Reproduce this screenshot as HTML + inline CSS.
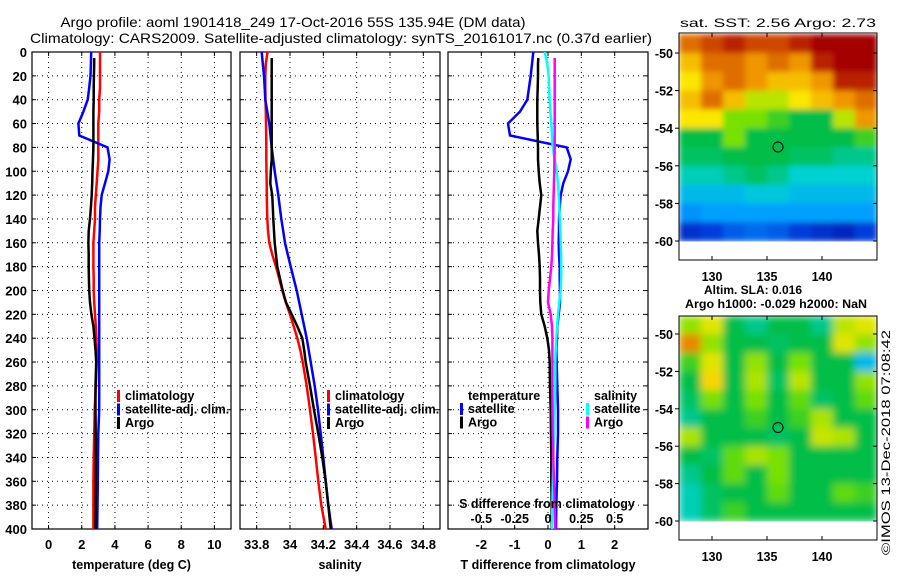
<!DOCTYPE html>
<html><head><meta charset="utf-8"><style>
html,body{margin:0;padding:0;background:#fff;}
svg{display:block;font-family:"Liberation Sans",sans-serif;}
</style></head><body>
<svg id="fig" width="900" height="580" viewBox="0 0 900 580">
<defs>
<filter id="blur" x="0" y="0" width="1" height="1"><feGaussianBlur stdDeviation="4" edgeMode="duplicate"/></filter>
<filter id="blur2" x="0" y="0" width="1" height="1"><feGaussianBlur stdDeviation="3" edgeMode="duplicate"/></filter>
</defs>
<text x="293" y="27" font-size="14" text-anchor="middle" textLength="465" lengthAdjust="spacingAndGlyphs">Argo profile: aoml 1901418_249 17-Oct-2016 55S 135.94E (DM data)</text>
<text x="341" y="43" font-size="14" text-anchor="middle" textLength="622" lengthAdjust="spacingAndGlyphs">Climatology: CARS2009. Satellite-adjusted climatology: synTS_20161017.nc (0.37d earlier)</text>
<text x="778" y="27" font-size="12" text-anchor="middle" textLength="196" lengthAdjust="spacingAndGlyphs">sat. SST: 2.56 Argo: 2.73</text>
<text x="753" y="294" font-size="12" text-anchor="middle" font-weight="bold">Altim. SLA: 0.016</text>
<text x="776" y="308" font-size="12" text-anchor="middle" font-weight="bold" textLength="182" lengthAdjust="spacingAndGlyphs">Argo h1000: -0.029 h2000: NaN</text>
<text transform="translate(890,555) rotate(-90)" font-size="12" textLength="225" lengthAdjust="spacingAndGlyphs">©IMOS 13-Dec-2018 07:08:42</text>
<g id="plots"></g>
</svg>
<script>
// ---- data ----
const depths = [0,10,20,30,40,50,60,70,80,90,100,110,120,130,140,150,160,170,180,190,200,210,220,230,240,250,260,280,300,320,340,360,380,400];
const argoDepths = [5,10,20,30,40,50,60,70,80,90,100,110,120,130,140,150,160,170,180,190,200,210,220,230,240,250,260,280,300,320,340,360,380,400];
const tempClim = [3.1,3.1,3.1,3.1,3.05,3.05,3.0,3.0,3.0,3.0,2.95,2.9,2.85,2.8,2.8,2.75,2.7,2.7,2.7,2.72,2.72,2.75,2.8,2.85,2.88,2.9,2.9,2.85,2.78,2.75,2.72,2.7,2.7,2.7];
const tempSat = [2.57,2.55,2.53,2.45,2.36,2.1,1.8,1.85,3.55,3.68,3.6,3.4,3.2,3.13,3.1,3.08,3.05,3.05,3.05,3.05,3.05,3.05,3.05,3.05,3.05,3.05,3.05,3.05,3.05,3.0,2.98,2.97,2.95,2.93];
const tempArgo = [2.75,2.75,2.73,2.72,2.72,2.7,2.7,2.7,2.7,2.68,2.65,2.63,2.6,2.55,2.5,2.42,2.4,2.42,2.42,2.43,2.45,2.5,2.58,2.7,2.77,2.83,2.87,2.83,2.83,2.84,2.85,2.85,2.84,2.83];
const salClim = [33.865,33.855,33.852,33.852,33.853,33.855,33.856,33.857,33.858,33.858,33.859,33.86,33.861,33.862,33.864,33.868,33.876,33.894,33.916,33.935,33.954,33.975,34.0,34.022,34.044,34.062,34.076,34.1,34.12,34.138,34.154,34.17,34.188,34.214];
const salSat = [33.83,33.837,33.844,33.848,33.852,33.864,33.876,33.883,33.89,33.899,33.908,33.919,33.93,33.939,33.948,33.959,33.97,33.987,34.004,34.022,34.04,34.055,34.07,34.085,34.1,34.112,34.124,34.148,34.168,34.184,34.2,34.214,34.23,34.25];
const salArgo = [33.89,33.89,33.89,33.89,33.89,33.89,33.89,33.89,33.89,33.89,33.885,33.882,33.893,33.897,33.9,33.904,33.908,33.916,33.924,33.94,33.956,33.976,34.01,34.044,34.074,34.085,34.094,34.12,34.144,34.17,34.194,34.214,34.23,34.244];
const dTSat = [-0.44,-0.48,-0.52,-0.57,-0.62,-0.84,-1.2,-1.14,0.56,0.68,0.6,0.46,0.38,0.35,0.33,0.33,0.32,0.33,0.35,0.35,0.36,0.36,0.32,0.28,0.27,0.25,0.26,0.28,0.3,0.3,0.28,0.27,0.25,0.24];
const dTArgo = [-0.29,-0.3,-0.3,-0.31,-0.32,-0.32,-0.32,-0.31,-0.3,-0.3,-0.28,-0.25,-0.2,-0.24,-0.28,-0.32,-0.3,-0.27,-0.25,-0.24,-0.24,-0.23,-0.2,-0.1,-0.02,0.03,0.05,0.06,0.08,0.09,0.1,0.1,0.11,0.11];
const dSSat = [-0.025,-0.005,0.005,0.008,0.012,0.018,0.025,0.03,0.035,0.05,0.065,0.075,0.08,0.085,0.088,0.092,0.095,0.098,0.1,0.098,0.095,0.085,0.075,0.068,0.062,0.058,0.055,0.055,0.05,0.045,0.04,0.036,0.033,0.03];
const dSArgo = [0.05,0.05,0.05,0.05,0.05,0.05,0.05,0.05,0.05,0.048,0.047,0.044,0.042,0.04,0.04,0.035,0.033,0.03,0.025,0.015,0.005,0.0,0.02,0.03,0.033,0.033,0.033,0.033,0.033,0.035,0.04,0.045,0.05,0.055];
const depthTicks = [0,20,40,60,80,100,120,140,160,180,200,220,240,260,280,300,320,340,360,380,400];
const tempTicks = [0,2,4,6,8,10];
const salTicks = [33.8,34,34.2,34.4,34.6,34.8];
const salTickLabels = ["33.8","34","34.2","34.4","34.6","34.8"];
const dTTicks = [-2,-1,0,1,2];
const dSTicks = [-0.5,-0.25,0,0.25,0.5];
const dSTickLabels = ["-0.5","-0.25","0","0.25","0.5"];
const latTicks = [-50,-52,-54,-56,-58,-60];
const lonTicks = [130,135,140];
const sstGrid = [
[0.85,0.9,0.95,0.9,0.9,0.95,1,1,1],
[0.75,0.85,0.85,0.8,0.85,0.8,0.95,1,1],
[0.7,0.8,0.85,0.8,0.75,0.75,0.8,0.95,0.95],
[0.75,0.85,0.75,0.65,0.65,0.7,0.75,0.8,0.85],
[0.7,0.7,0.6,0.6,0.55,0.5,0.5,0.65,0.8],
[0.5,0.5,0.6,0.5,0.5,0.5,0.5,0.5,0.55],
[0.48,0.48,0.5,0.5,0.5,0.48,0.48,0.45,0.45],
[0.42,0.42,0.45,0.48,0.45,0.4,0.4,0.4,0.4],
[0.35,0.35,0.35,0.38,0.38,0.35,0.35,0.35,0.35],
[0.28,0.3,0.3,0.3,0.3,0.3,0.3,0.3,0.3],
[0.12,0.15,0.2,0.22,0.2,0.15,0.12,0.1,0.15]];
const slaGrid = [
[0.62,0.68,0.5,0.45,0.5,0.5,0.45,0.65,0.68],
[0.82,0.62,0.5,0.5,0.48,0.5,0.5,0.68,0.62],
[0.55,0.68,0.5,0.62,0.5,0.6,0.5,0.5,0.35],
[0.5,0.72,0.5,0.64,0.48,0.65,0.5,0.5,0.62],
[0.48,0.6,0.5,0.6,0.5,0.58,0.48,0.5,0.58],
[0.45,0.5,0.5,0.55,0.5,0.55,0.64,0.5,0.5],
[0.64,0.5,0.5,0.5,0.48,0.5,0.66,0.64,0.5],
[0.5,0.48,0.58,0.64,0.6,0.5,0.5,0.5,0.5],
[0.45,0.5,0.58,0.5,0.6,0.5,0.5,0.5,0.5],
[0.42,0.48,0.5,0.5,0.58,0.5,0.5,0.58,0.55],
[0.42,0.48,0.55,0.5,0.5,0.5,0.5,0.5,0.5]];
const argoLon = 136, argoLat = -55;

// ---- drawing ----
const NS='http://www.w3.org/2000/svg';
const root=document.getElementById('plots');
function el(tag,attrs,parent){const e=document.createElementNS(NS,tag);for(const k in attrs)e.setAttribute(k,attrs[k]);(parent||root).appendChild(e);return e;}
function txt(x,y,s,size,anchor,parent){const t=el('text',{x:x,y:y,'font-size':size,'font-weight':'bold','text-anchor':anchor||'middle'},parent);t.textContent=s;return t;}
const Y0=52,Y1=529;
const yD=d=>Y0+(d/400)*(Y1-Y0);
function lin(d0,d1,r0,r1){return v=>r0+(v-d0)/(d1-d0)*(r1-r0);}

function panel(name,x0,x1,xs,ticks,labels,xlabel,showY){
  const g=el('g',{});
  
  
  depthTicks.forEach(d=>{ if(d>0&&d<400){const l=el('line',{x1:x0,x2:x1,y1:yD(d),y2:yD(d),stroke:'#000','stroke-width':1,'stroke-dasharray':'1,4'},g);
    }
    el('line',{x1:x0,x2:x0+4,y1:yD(d),y2:yD(d),stroke:'#000'},g);el('line',{x1:x1-4,x2:x1,y1:yD(d),y2:yD(d),stroke:'#000'},g);
    if(showY){const t=txt(x0-5,yD(d)+5,String(d),13,'end',g);}
  });
  ticks.forEach((v,i)=>{const x=xs(v);
    const l=el('line',{x1:x,x2:x,y1:Y0,y2:Y1,stroke:'#000','stroke-dasharray':'1,4'},g);
    
    el('line',{x1:x,x2:x,y1:Y1-4,y2:Y1,stroke:'#000'},g);el('line',{x1:x,x2:x,y1:Y0,y2:Y0+4,stroke:'#000'},g);
    const t=txt(x,Y1+20,labels[i],13,'middle',g);
    });
  const xl=txt((x0+x1)/2,Y1+40,xlabel,12.5,'middle',g);
  
  const b=el('rect',{x:x0,y:Y0,width:x1-x0,height:Y1-Y0,fill:'none',stroke:'#000','stroke-width':1.2},g);
  
  return g;
}
function series(g,vals,ds,xs,color,name,clip){
  const p=vals.map((v,i)=>xs(v).toFixed(1)+','+yD(ds[i]).toFixed(1)).join(' ');
  const l=el('polyline',{points:p,fill:'none',stroke:color,'stroke-width':2.5,'clip-path':clip},g);
  
}
function legend(g,x,y,items){
  items.forEach((it,i)=>{const yy=y+i*13.5;
    const m=el('rect',{x:x,y:yy-10,width:3,height:12,fill:it[1]},g);
    
    const t=txt(x+8,yy,it[0],12.5,'start',g);
    });
}
function clipFor(id,x0,x1){const c=el('clipPath',{id:id});el('rect',{x:x0,y:Y0,width:x1-x0,height:Y1-Y0},c);return 'url(#'+id+')';}

// Panel 1 temperature
const xT=lin(-1,11,32,231);
const g1=panel('temperature-panel',32,231,xT,tempTicks,tempTicks.map(String),'temperature (deg C)',true);
const c1=clipFor('c1',32,231);
series(g1,tempClim,depths,xT,'#ff0000','temp-climatology-line',c1);
series(g1,tempSat,depths,xT,'#0000ff','temp-satellite-line',c1);
series(g1,tempArgo,argoDepths,xT,'#000','temp-argo-line',c1);
legend(g1,117,400,[['climatology','#ff0000'],['satellite-adj. clim.','#0000ff'],['Argo','#000']]);

// Panel 2 salinity
const xS=lin(33.7,34.9,240,440);
const g2=panel('salinity-panel',240,440,xS,salTicks,salTickLabels,'salinity',false);
const c2=clipFor('c2',240,440);
series(g2,salClim,depths,xS,'#ff0000','sal-climatology-line',c2);
series(g2,salSat,depths,xS,'#0000ff','sal-satellite-line',c2);
series(g2,salArgo,argoDepths,xS,'#000','sal-argo-line',c2);
legend(g2,327,400,[['climatology','#ff0000'],['satellite-adj. clim.','#0000ff'],['Argo','#000']]);

// Panel 3 differences
const xdT=lin(-3,3,448,648);
const xdS=lin(-0.75,0.75,448,648);
const g3=panel('difference-panel',448,648,xdT,dTTicks,dTTicks.map(String),'T difference from climatology',false);
const c3=clipFor('c3',448,648);
series(g3,dTSat,depths,xdT,'#0000ff','dT-satellite-line',c3);
series(g3,dTArgo,argoDepths,xdT,'#000','dT-argo-line',c3);
series(g3,dSSat,depths,xdS,'#00ffff','dS-satellite-line',c3);
series(g3,dSArgo,argoDepths,xdS,'#ff00ff','dS-argo-line',c3);
const tl=txt(468,400,'temperature',12.5,'start',g3);
legend(g3,460,413,[['satellite','#0000ff'],['Argo','#000']]);
const sl=txt(594,400,'salinity',12.5,'start',g3);
legend(g3,586,413,[['satellite','#00ffff'],['Argo','#ff00ff']]);
const sdl=txt(547,508,'S difference from climatology',12.5,'middle',g3);
dSTicks.forEach((v,i)=>{const t=txt(xdS(v),523,dSTickLabels[i],12.5,'middle',g3);});

// colormap
const stops=[[0,[0,0,140]],[0.15,[0,60,220]],[0.3,[0,160,255]],[0.4,[0,210,210]],[0.5,[0,190,70]],[0.6,[120,225,0]],[0.7,[250,230,0]],[0.8,[240,150,0]],[0.9,[205,70,0]],[1,[165,0,0]]];
function cmap(v){for(let i=1;i<stops.length;i++){if(v<=stops[i][0]){const a=stops[i-1],b=stops[i],t=(v-a[0])/(b[0]-a[0]);return 'rgb('+a[1].map((c,k)=>Math.round(c+(b[1][k]-c)*t)).join(',')+')';}}return 'rgb(165,0,0)';}

function map(name,grid,top,bottom,lat50y,lat60y,latTop,filt){
  const g=el('g',{});
  
  const xL=lin(127,145,679,877);
  const yL=lin(-50,-60,lat50y,lat60y);
  const nr=grid.length;
  const latStep=(latTop-(-60))/nr;
  const cg=el('g',{filter:'url(#'+filt+')'},g);
  grid.forEach((row,r)=>row.forEach((v,c)=>{
    const la0=latTop-r*latStep,la1=la0-latStep,lo0=127+c*2,lo1=lo0+2;
    const x=xL(lo0),y=Math.max(top,yL(la0));
    const cell=el('rect',{x:x.toFixed(1),y:y.toFixed(1),width:(xL(lo1)-x+0.5).toFixed(1),height:(yL(la1)-y+0.5).toFixed(1),fill:cmap(v)},cg);
    
  }));
  const ci=el('circle',{cx:xL(argoLon),cy:yL(argoLat),r:5,fill:'none',stroke:'#000','stroke-width':1},g);
  
  el('rect',{x:679,y:top,width:198,height:bottom-top,fill:'none',stroke:'#000'},g);
  latTicks.forEach(la=>{const y=yL(la);el('line',{x1:877,x2:873,y1:y,y2:y,stroke:'#000'},g);el('line',{x1:679,x2:675,y1:y,y2:y,stroke:'#000'},g);
    const t=txt(673,y+5,String(la),12.5,'end',g);});
  lonTicks.forEach(lo=>{const x=xL(lo);el('line',{x1:x,x2:x,y1:bottom,y2:bottom-4,stroke:'#000'},g);el('line',{x1:x,x2:x,y1:top,y2:top+4,stroke:'#000'},g);
    const t=txt(x,bottom+21,String(lo),12.5,'middle',g);});
}
map('sst-map',sstGrid,33,260,53,241,-49,'blur2');
map('sla-map',slaGrid,316,540,334,521,-49,'blur');
</script>
</body></html>
